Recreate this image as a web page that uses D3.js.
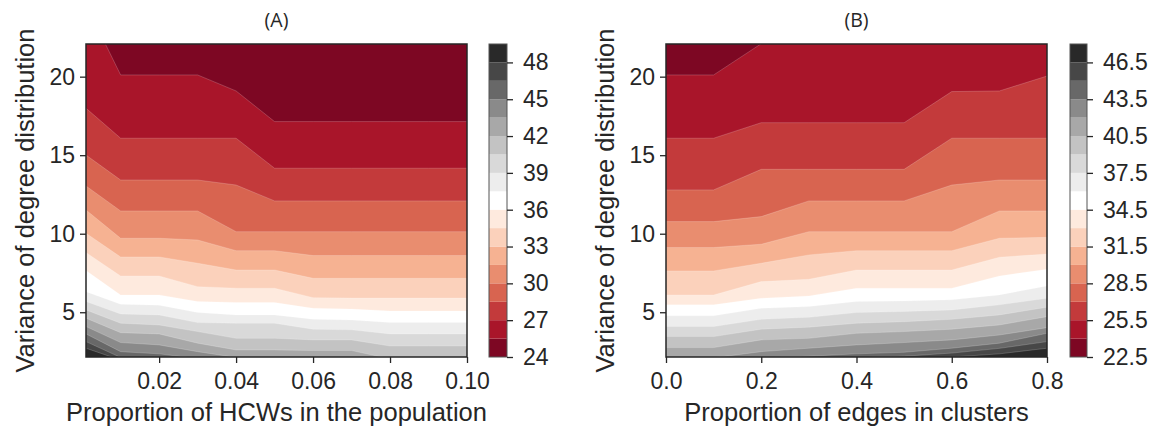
<!DOCTYPE html>
<html>
<head>
<meta charset="utf-8">
<script src="https://cdn.jsdelivr.net/npm/d3@7"></script>
<style>
  body { margin: 0; background: #fff; }
  svg text { font-family: "Liberation Sans", Arial, sans-serif; fill: #262626; }
  .title { font-family: "Open Sans", "Noto Sans", sans-serif; }
</style>
</head>
<body>
<svg id="chart" width="1158" height="431"></svg>
<script>
// ---------- Panel A: proportion of HCWs ----------
const xA = [0.001, 0.01, 0.02, 0.03, 0.04, 0.05, 0.06, 0.07, 0.08, 0.09, 0.10];
const levelsA = [24, 25.5, 27, 28.5, 30, 31.5, 33, 34.5, 36, 37.5, 39, 40.5, 42, 43.5, 45, 46.5, 48, 49.5];
// variance at which each contour level (levelsA[1..]) is reached, per column of xA
const isoA = [
  [24.6, 20.11, 20.11, 20.11, 19.09, 17.14, 17.14, 17.14, 17.14, 17.14, 17.14], // 25.5
  [17.99, 16.08, 16.08, 16.08, 16.08, 14.17, 14.17, 14.17, 14.17, 14.17, 14.17], // 27
  [15.01, 13.42, 13.42, 13.42, 13.10, 12.09, 12.09, 12.09, 12.09, 12.09, 12.09], // 28.5
  [13.04, 11.45, 11.45, 11.45, 10.13, 10.13, 10.13, 10.13, 10.13, 10.13, 10.13], // 30
  [11.51, 9.71, 9.71, 9.60, 8.92, 8.92, 8.61, 8.61, 8.61, 8.61, 8.61],          // 31.5
  [10.03, 8.52, 8.52, 8.12, 7.69, 7.69, 7.16, 7.16, 7.16, 7.16, 7.16],          // 33
  [8.80, 7.31, 7.31, 6.63, 6.53, 6.53, 5.93, 5.90, 5.90, 5.90, 5.90],           // 34.5
  [7.65, 6.10, 6.10, 5.68, 5.62, 5.62, 5.25, 5.20, 5.08, 5.08, 5.08],           // 36
  [6.31, 5.51, 5.45, 4.98, 4.83, 4.83, 4.55, 4.51, 4.34, 4.34, 4.34],           // 37.5
  [5.68, 4.89, 4.83, 4.34, 4.30, 4.30, 3.92, 3.88, 3.62, 3.62, 3.62],           // 39
  [5.15, 4.30, 4.19, 3.77, 3.34, 3.34, 3.24, 3.24, 2.85, 2.85, 2.85],           // 40.5
  [4.62, 3.70, 3.62, 3.03, 2.60, 2.60, 2.56, 2.56, 2.03, 2.00, 2.00],           // 42
  [4.09, 3.07, 2.92, 2.49, 2.12, 2.08, 2.05, 2.05, 1.90, 1.90, 1.90],           // 43.5
  [3.62, 2.49, 2.35, 2.05, 1.95, 1.95, 1.90, 1.90, 1.80, 1.80, 1.80],           // 45
  [3.13, 2.12, 1.95, 1.90, 1.85, 1.85, 1.80, 1.80, 1.70, 1.70, 1.70],           // 46.5
  [2.71, 1.95, 1.85, 1.80, 1.75, 1.75, 1.70, 1.70, 1.60, 1.60, 1.60]            // 48
];
const xTicksA = [0.02, 0.04, 0.06, 0.08, 0.10];
const cbTicksA = [24, 27, 30, 33, 36, 39, 42, 45, 48];

// ---------- Panel B: proportion of edges in clusters ----------
const xB = [0.0, 0.1, 0.2, 0.3, 0.4, 0.5, 0.6, 0.7, 0.8];
const levelsB = [22.5, 24, 25.5, 27, 28.5, 30, 31.5, 33, 34.5, 36, 37.5, 39, 40.5, 42, 43.5, 45, 46.5, 48];
const isoB = [
  [20.11, 20.11, 22.10, 23.50, 24.00, 24.00, 24.00, 24.00, 24.00], // 24
  [16.08, 16.08, 17.07, 17.07, 17.07, 17.07, 19.05, 19.09, 20.04], // 25.5
  [12.79, 12.79, 14.10, 14.10, 14.10, 14.10, 16.08, 16.08, 16.08], // 27
  [10.77, 10.77, 11.09, 12.09, 12.09, 12.09, 13.10, 13.42, 13.42], // 28.5
  [9.12, 9.12, 9.33, 10.13, 10.13, 10.13, 10.13, 11.45, 11.45],    // 30
  [7.63, 7.63, 8.12, 8.65, 8.92, 8.92, 8.92, 9.71, 9.77],          // 31.5
  [6.10, 6.10, 6.95, 7.10, 7.69, 7.69, 7.69, 8.50, 8.71],          // 33
  [5.47, 5.47, 5.89, 6.04, 6.53, 6.53, 6.53, 7.31, 7.74],          // 34.5
  [4.77, 4.77, 5.25, 5.36, 5.68, 5.72, 5.79, 6.10, 6.67],          // 36
  [4.09, 4.09, 4.55, 4.68, 4.98, 5.05, 5.15, 5.47, 5.89],          // 37.5
  [3.45, 3.45, 3.92, 4.05, 4.30, 4.40, 4.55, 4.83, 5.32],          // 39
  [2.75, 2.75, 3.24, 3.34, 3.66, 3.77, 3.92, 4.19, 4.72],          // 40.5
  [2.00, 2.10, 2.49, 2.71, 2.92, 3.07, 3.24, 3.55, 4.02],          // 42
  [1.90, 1.95, 2.10, 2.20, 2.35, 2.45, 2.71, 3.03, 3.66],          // 43.5
  [1.80, 1.85, 1.95, 2.00, 2.10, 2.20, 2.40, 2.70, 3.13],          // 45
  [1.70, 1.75, 1.85, 1.90, 1.95, 2.00, 2.15, 2.35, 2.71]           // 46.5
];
const xTicksB = [0.0, 0.2, 0.4, 0.6, 0.8];
const cbTicksB = [22.5, 25.5, 28.5, 31.5, 34.5, 37.5, 40.5, 43.5, 46.5];

// shared vertical axis
const yExtent = [2.15, 22.08];
const yTicks = [5, 10, 15, 20];

// diverging red-grey colour ramp
const rdgyStops = ["#67001f", "#b2182b", "#d6604d", "#f4a582", "#fddbc7", "#ffffff",
                   "#e0e0e0", "#bababa", "#878787", "#4d4d4d", "#1a1a1a"];
const rdgy = d3.scaleLinear()
  .domain(rdgyStops.map((_, i) => i / (rdgyStops.length - 1)))
  .range(rdgyStops)
  .interpolate(d3.interpolateRgb);

const ink = "#262626";
const svg = d3.select("#chart");
const plotTop = 44, plotBottom = 357;

function drawPanel(cfg) {
  const g = svg.append("g");
  const levels = cfg.levels;
  const lo = levels[0], hi = levels[levels.length - 1];
  const bandColor = k => rdgy(((levels[k] + levels[k + 1]) / 2 - lo) / (hi - lo));

  const x = d3.scaleLinear().domain(d3.extent(cfg.xs)).range([cfg.left, cfg.right]);
  const y = d3.scaleLinear().domain(yExtent).range([plotBottom, plotTop]);

  svg.append("defs").append("clipPath").attr("id", cfg.id + "-clip")
    .append("rect").attr("x", cfg.left).attr("y", plotTop)
    .attr("width", cfg.right - cfg.left).attr("height", plotBottom - plotTop);

  const bands = g.append("g").attr("clip-path", `url(#${cfg.id}-clip)`);
  bands.append("rect")
    .attr("x", cfg.left).attr("y", plotTop)
    .attr("width", cfg.right - cfg.left).attr("height", plotBottom - plotTop)
    .attr("fill", bandColor(0));

  const area = d3.area()
    .x((d, j) => x(cfg.xs[j]))
    .y0(plotBottom + 80)
    .y1(d => y(d));
  const line = d3.line().x((d, j) => x(cfg.xs[j])).y(d => y(d));

  bands.selectAll("path.band").data(cfg.iso).join("path")
    .attr("class", "band")
    .attr("d", area)
    .attr("fill", (d, i) => bandColor(i + 1));

  // faint seams between filled bands
  bands.selectAll("path.seam").data(cfg.iso).join("path")
    .attr("class", "seam")
    .attr("d", line)
    .attr("fill", "none")
    .attr("stroke", "rgba(255,255,255,0.28)")
    .attr("stroke-width", 0.7);

  // axes
  const xAxis = g.append("g").attr("transform", `translate(0,${plotBottom})`)
    .call(d3.axisBottom(x).tickValues(cfg.xTicks).tickFormat(d3.format(cfg.fmt))
      .tickSize(6).tickPadding(10));
  const yAxis = g.append("g").attr("transform", `translate(${cfg.left},0)`)
    .call(d3.axisLeft(y).tickValues(yTicks).tickSize(6).tickPadding(5));
  [xAxis, yAxis].forEach(a => {
    a.select(".domain").remove();
    a.selectAll(".tick line").attr("stroke", ink).attr("stroke-width", 1.3);
    a.selectAll(".tick text").attr("font-size", 23).attr("fill", ink)
      .attr("font-family", "Liberation Sans, Arial, sans-serif");
  });

  g.append("rect")
    .attr("x", cfg.left).attr("y", plotTop)
    .attr("width", cfg.right - cfg.left).attr("height", plotBottom - plotTop)
    .attr("fill", "none").attr("stroke", ink).attr("stroke-width", 1.5);

  // axis titles
  g.append("text")
    .attr("x", (cfg.left + cfg.right) / 2).attr("y", 421)
    .attr("text-anchor", "middle").attr("font-size", 25.5)
    .text(cfg.xLabel);
  g.append("text")
    .attr("transform", `translate(${cfg.left - 52},${(plotTop + plotBottom) / 2}) rotate(-90)`)
    .attr("text-anchor", "middle").attr("font-size", 25.5)
    .text("Variance of degree distribution");
  g.append("text").attr("class", "title")
    .attr("x", (cfg.left + cfg.right) / 2).attr("y", 27)
    .attr("text-anchor", "middle").attr("font-size", 19.5)
    .text(cfg.title);

  // colour bar
  const cb = d3.scaleLinear().domain([lo, hi]).range([plotBottom, plotTop]);
  const cbg = g.append("g");
  cbg.selectAll("rect.cb").data(d3.range(levels.length - 1)).join("rect")
    .attr("class", "cb")
    .attr("x", cfg.cbX).attr("width", cfg.cbW)
    .attr("y", k => cb(levels[k + 1]))
    .attr("height", k => cb(levels[k]) - cb(levels[k + 1]))
    .attr("fill", k => bandColor(k));
  cbg.append("rect")
    .attr("x", cfg.cbX).attr("y", plotTop).attr("width", cfg.cbW).attr("height", plotBottom - plotTop)
    .attr("fill", "none").attr("stroke", "#555").attr("stroke-width", 1);
  const cbAxis = cbg.append("g").attr("transform", `translate(${cfg.cbX + cfg.cbW},0)`)
    .call(d3.axisRight(cb).tickValues(cfg.cbTicks).tickFormat(cfg.cbFmt)
      .tickSize(6).tickPadding(10));
  cbAxis.select(".domain").remove();
  cbAxis.selectAll(".tick line").attr("stroke", ink).attr("stroke-width", 1.3);
  cbAxis.selectAll(".tick text").attr("font-size", 23).attr("fill", ink)
    .attr("font-family", "Liberation Sans, Arial, sans-serif");
}

drawPanel({
  id: "pa", title: "(A)", xs: xA, levels: levelsA, iso: isoA,
  left: 86, right: 467, xTicks: xTicksA, fmt: ".2f",
  xLabel: "Proportion of HCWs in the population",
  cbX: 489, cbW: 18, cbTicks: cbTicksA, cbFmt: d3.format("d")
});
drawPanel({
  id: "pb", title: "(B)", xs: xB, levels: levelsB, iso: isoB,
  left: 666, right: 1047, xTicks: xTicksB, fmt: ".1f",
  xLabel: "Proportion of edges in clusters",
  cbX: 1070, cbW: 17, cbTicks: cbTicksB, cbFmt: d3.format(".1f")
});
</script>
</body>
</html>
